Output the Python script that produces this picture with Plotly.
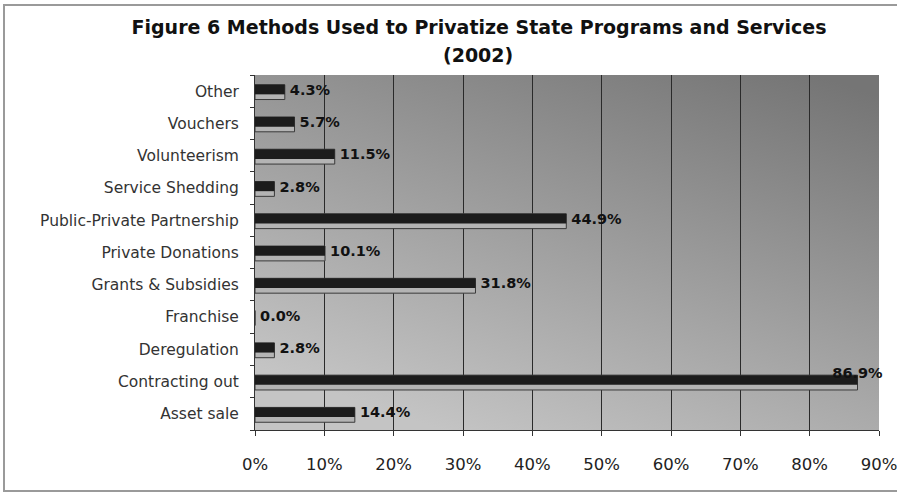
import base64
import plotly.graph_objects as go

categories = ["Asset sale", "Contracting out", "Deregulation", "Franchise",
              "Grants & Subsidies", "Private Donations", "Public-Private Partnership",
              "Service Shedding", "Volunteerism", "Vouchers", "Other"]
values = [14.4, 86.9, 2.8, 0.0, 31.8, 10.1, 44.9, 2.8, 11.5, 5.7, 4.3]
x_ticks = [0, 10, 20, 30, 40, 50, 60, 70, 80, 90]
x_tick_labels = [f"{v}%" for v in x_ticks]
labels = [f"{v:.1f}%" for v in values]
label_pos = ["top center" if v > 80 else "middle right" for v in values]
label_text = [t if v > 80 else " " + t for t, v in zip(labels, values)]

svg = ("<svg xmlns='http://www.w3.org/2000/svg' width='100' height='100' preserveAspectRatio='none'>"
       "<defs><linearGradient id='g' x1='0.9' y1='0' x2='0.3' y2='1'>"
       "<stop offset='0' stop-color='#757575'/><stop offset='1' stop-color='#c4c4c4'/>"
       "</linearGradient></defs><rect width='100' height='100' fill='url(#g)'/></svg>")
svg_uri = "data:image/svg+xml;base64," + base64.b64encode(svg.encode()).decode()

fig = go.Figure()
# lighter 3D "base" of each bar
fig.add_trace(go.Bar(
    x=values, y=categories, orientation="h",
    width=0.46, offset=-0.26,
    marker=dict(color="#b4b4b4", line=dict(color="#3a3a3a", width=1)),
    hoverinfo="skip", showlegend=False,
))
# dark face of each bar
fig.add_trace(go.Bar(
    x=values, y=categories, orientation="h",
    width=0.30, offset=-0.10,
    marker=dict(color="#1c1c1c", line=dict(width=0)),
    showlegend=False,
))
# value labels
fig.add_trace(go.Scatter(
    x=values, y=categories, mode="text", text=label_text,
    textposition=label_pos,
    textfont=dict(family="DejaVu Sans", size=14.5, color="#111111", weight="bold"),
    cliponaxis=False, showlegend=False, hoverinfo="skip",
))

fig.update_layout(
    width=897, height=493,
    margin=dict(l=255, r=18, t=75, b=63),
    barmode="overlay",
    paper_bgcolor="white",
    plot_bgcolor="rgba(0,0,0,0)",
    title=dict(
        text="<b>Figure 6 Methods Used to Privatize State Programs and Services</b>",
        x=479 / 897, xanchor="center", y=1 - 27 / 493, yanchor="middle",
        yref="container", xref="container",
        font=dict(family="DejaVu Sans", size=19, color="#111111"),
    ),
    annotations=[dict(
        text="<b>(2002)</b>", xref="paper", yref="paper",
        x=(478 - 255) / 624, y=(430 - 55) / 355, showarrow=False,
        xanchor="center", yanchor="middle",
        font=dict(family="DejaVu Sans", size=19, color="#111111"),
    )],
    images=[dict(
        source=svg_uri, xref="paper", yref="paper", x=0, y=1,
        sizex=1, sizey=1, sizing="stretch", layer="below",
        xanchor="left", yanchor="top",
    )],
    shapes=[dict(
        type="rect", xref="paper", yref="paper",
        x0=(4 - 255) / 624, x1=(905 - 255) / 624,
        y0=(430 - 491) / 355, y1=(430 - 5) / 355,
        line=dict(color="#9a9a9a", width=2), fillcolor="rgba(0,0,0,0)", layer="below",
    )],
    xaxis=dict(
        range=[0, 90], tickvals=x_ticks, ticktext=x_tick_labels,
        showgrid=True, gridcolor="#2a2a2a", gridwidth=1,
        showline=True, linecolor="#333333", linewidth=1,
        ticks="outside", ticklen=5, tickcolor="#333333",
        ticklabelstandoff=14, ticklabeloverflow="allow", automargin=False,
        tickfont=dict(family="DejaVu Sans", size=16.5, color="#222222"),
        zeroline=False, fixedrange=True,
    ),
    yaxis=dict(
        categoryorder="array", categoryarray=categories,
        range=[-0.5, len(categories) - 0.5],
        showline=True, linecolor="#333333", linewidth=1,
        ticks="outside", ticklen=4, tickcolor="#333333", tickson="boundaries",
        ticklabelstandoff=12, automargin=False,
        tickfont=dict(family="DejaVu Sans", size=15.5, color="#333333"),
        showgrid=False, zeroline=False, fixedrange=True,
    ),
)

fig.write_html(
    "out.html",
    config={"displayModeBar": False, "staticPlot": True},
    post_script="document.body.style.margin='0';document.body.style.overflow='hidden';",
)
